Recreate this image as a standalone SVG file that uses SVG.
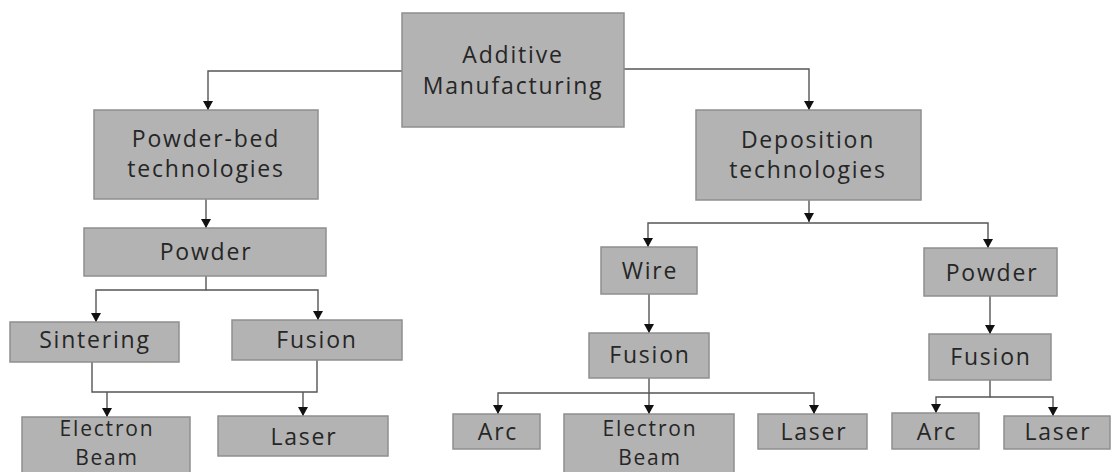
<svg xmlns="http://www.w3.org/2000/svg" width="1111" height="472" viewBox="0 0 1111 472">
<style>
.box{fill:#b3b3b3;stroke:#8f8f8f;stroke-width:1.5}
.lbl{font-family:"Open Sans","Liberation Sans",sans-serif;font-size:23px;fill:#262626;text-anchor:middle;letter-spacing:1.8px}
.sm{font-size:21px}
.c{fill:none;stroke:#555;stroke-width:1.4}
.a{marker-end:url(#ah)}
</style>
<defs>
<marker id="ah" markerUnits="userSpaceOnUse" markerWidth="10" markerHeight="12" refX="9" refY="6" orient="auto" viewBox="0 0 10 12">
<path d="M0,1 L9,6 L0,11 Z" fill="#111"/>
</marker>
</defs>
<rect width="1111" height="472" fill="#fff"/>
<g id="connectors">
<path class="c a" d="M402,71 H208 V110"/>
<path class="c a" d="M624,69 H809 V110"/>
<path class="c a" d="M206,199 V228"/>
<path class="c a" d="M206,276 V290 H96 V322"/>
<path class="c a" d="M206,290 H318 V320"/>
<path class="c" d="M92,362 V392 H317 V360"/>
<path class="c a" d="M107,392 V417"/>
<path class="c a" d="M303,392 V416"/>
<path class="c a" d="M809,200 V222"/>
<path class="c a" d="M809,223 H648 V247"/>
<path class="c a" d="M809,223 H988 V248"/>
<path class="c a" d="M649,294 V333"/>
<path class="c a" d="M649,378 V393 H498 V414"/>
<path class="c a" d="M649,393 H814 V414"/>
<path class="c a" d="M649,393 V414"/>
<path class="c a" d="M990,296 V334"/>
<path class="c a" d="M990,380 V397 H936 V413"/>
<path class="c a" d="M990,397 H1053 V416"/>
</g>
<g id="additive-manufacturing"><rect class="box" x="402" y="13" width="222" height="114"/><text class="lbl" x="513" y="63">Additive</text><text class="lbl" x="513" y="94">Manufacturing</text></g>
<g id="powder-bed"><rect class="box" x="94" y="110" width="224" height="89"/><text class="lbl" x="206" y="147">Powder-bed</text><text class="lbl" x="206" y="177">technologies</text></g>
<g id="deposition"><rect class="box" x="696" y="110" width="225" height="90"/><text class="lbl" x="808" y="148">Deposition</text><text class="lbl" x="808" y="178">technologies</text></g>
<g id="powder-left"><rect class="box" x="84" y="228" width="242" height="48"/><text class="lbl" x="206" y="260">Powder</text></g>
<g id="sintering"><rect class="box" x="10" y="322" width="169" height="40"/><text class="lbl" x="95" y="348">Sintering</text></g>
<g id="fusion-left"><rect class="box" x="232" y="320" width="170" height="40"/><text class="lbl" x="317" y="348">Fusion</text></g>
<g id="electron-beam-left"><rect class="box" x="22" y="417" width="168" height="70"/><text class="lbl sm" x="107" y="436">Electron</text><text class="lbl sm" x="107" y="465">Beam</text></g>
<g id="laser-left"><rect class="box" x="218" y="416" width="170" height="40"/><text class="lbl" x="304" y="445">Laser</text></g>
<g id="wire"><rect class="box" x="601" y="247" width="96" height="47"/><text class="lbl" x="650" y="279">Wire</text></g>
<g id="fusion-wire"><rect class="box" x="589" y="333" width="120" height="45"/><text class="lbl" x="650" y="363">Fusion</text></g>
<g id="arc-wire"><rect class="box" x="453" y="414" width="87" height="35"/><text class="lbl" x="498" y="440">Arc</text></g>
<g id="electron-beam-wire"><rect class="box" x="564" y="414" width="170" height="70"/><text class="lbl sm" x="650" y="436">Electron</text><text class="lbl sm" x="650" y="465">Beam</text></g>
<g id="laser-wire"><rect class="box" x="758" y="414" width="109" height="35"/><text class="lbl" x="814" y="440">Laser</text></g>
<g id="powder-right"><rect class="box" x="924" y="248" width="133" height="48"/><text class="lbl" x="992" y="281">Powder</text></g>
<g id="fusion-right"><rect class="box" x="929" y="334" width="122" height="46"/><text class="lbl" x="991" y="365">Fusion</text></g>
<g id="arc-right"><rect class="box" x="892" y="413" width="87" height="36"/><text class="lbl" x="937" y="440">Arc</text></g>
<g id="laser-right"><rect class="box" x="1004" y="416" width="106" height="33"/><text class="lbl" x="1058" y="440">Laser</text></g>
</svg>
